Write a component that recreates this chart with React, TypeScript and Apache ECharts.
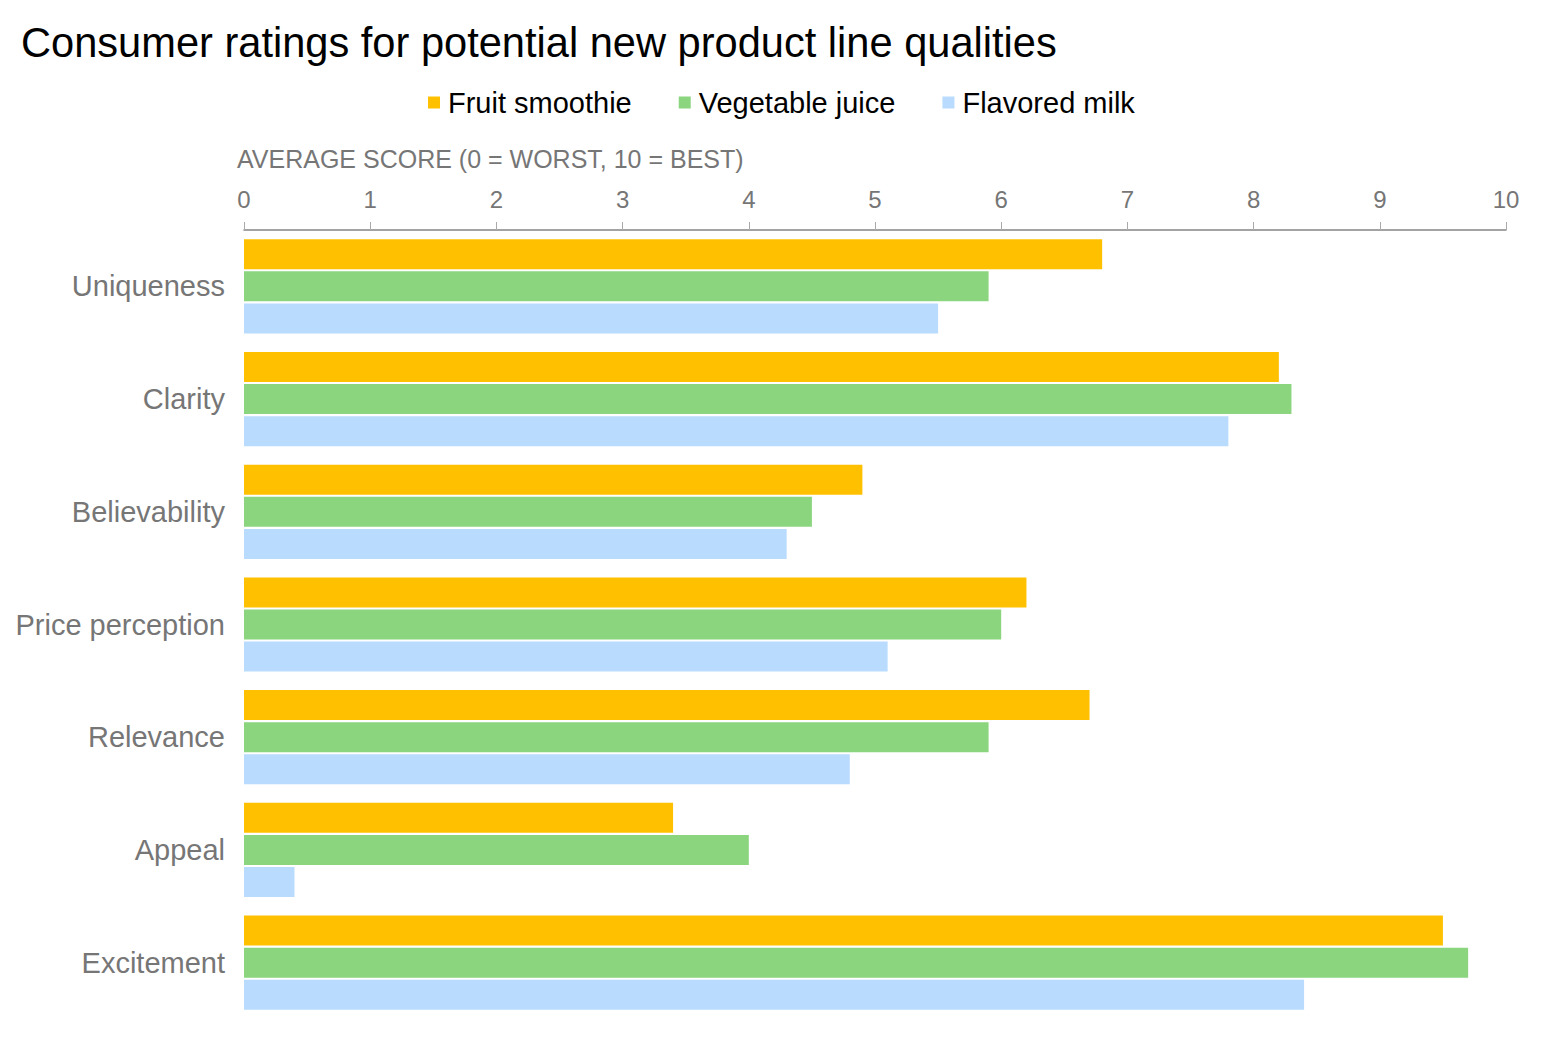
import React, { useEffect, useRef } from "react";
import * as echarts from "echarts";

const categories = ["Uniqueness", "Clarity", "Believability", "Price perception", "Relevance", "Appeal", "Excitement"];
const seriesNames = ["Fruit smoothie", "Vegetable juice", "Flavored milk"];
const fruitSmoothie = [6.8, 8.2, 4.9, 6.2, 6.7, 3.4, 9.5];
const vegetableJuice = [5.9, 8.3, 4.5, 6.0, 5.9, 4.0, 9.7];
const flavoredMilk = [5.5, 7.8, 4.3, 5.1, 4.8, 0.4, 8.4];
const colors = ["#FFC000", "#8AD57E", "#B8DBFE"];
const titleText = "Consumer ratings for potential new product line qualities";
const axisName = "AVERAGE SCORE (0 = WORST, 10 = BEST)";

const FONT = "'Liberation Sans', Arial, Helvetica, sans-serif";

export default function App() {
  const ref = useRef<HTMLDivElement>(null);
  useEffect(() => {
    if (!ref.current) return;
    const chart = echarts.init(ref.current, undefined, { renderer: "svg" });
    const data = [fruitSmoothie, vegetableJuice, flavoredMilk];
    chart.setOption({
      animation: false,
      backgroundColor: "#ffffff",
      textStyle: { fontFamily: FONT },
      title: {
        text: titleText,
        left: 16,
        top: 16,
        textStyle: { fontSize: 41.6, fontWeight: "normal", color: "#000", fontFamily: FONT },
      },
      legend: {
        left: 428,
        top: 88,
        padding: 0,
        icon: "rect",
        itemWidth: 12,
        itemHeight: 12,
        itemGap: 47,
        textStyle: { fontSize: 29, color: "#000", fontFamily: FONT, padding: [0, 0, 0, 3] },
        data: seriesNames,
      },
      graphic: [
        {
          type: "text",
          left: 237,
          top: 146,
          style: { text: axisName, fontSize: 25, fill: "#767676", fontFamily: FONT },
        },
      ],
      grid: { left: 244, right: 37, top: 230, bottom: 22, containLabel: false },
      xAxis: {
        type: "value",
        position: "top",
        min: 0,
        max: 10,
        interval: 1,
        axisLine: { show: true, lineStyle: { color: "#858585", width: 1.5 } },
        axisTick: { show: true, length: 8, lineStyle: { color: "#aaaaaa" } },
        splitLine: { show: false },
        axisLabel: { fontSize: 24, color: "#767676", margin: 19, fontFamily: FONT },
      },
      yAxis: {
        type: "category",
        inverse: true,
        data: categories,
        axisLine: { show: false },
        axisTick: { show: false },
        axisLabel: { fontSize: 29, color: "#767676", margin: 19, fontFamily: FONT },
      },
      series: seriesNames.map((name, i) => ({
        name,
        type: "bar",
        data: data[i],
        barWidth: 30,
        barGap: "7%",
        itemStyle: { color: colors[i] },
      })),
    });
    return () => chart.dispose();
  }, []);
  return (
    <div
      ref={ref}
      style={{ position: "fixed", left: 0, top: 0, width: 1543, height: 1041 }}
    />
  );
}
